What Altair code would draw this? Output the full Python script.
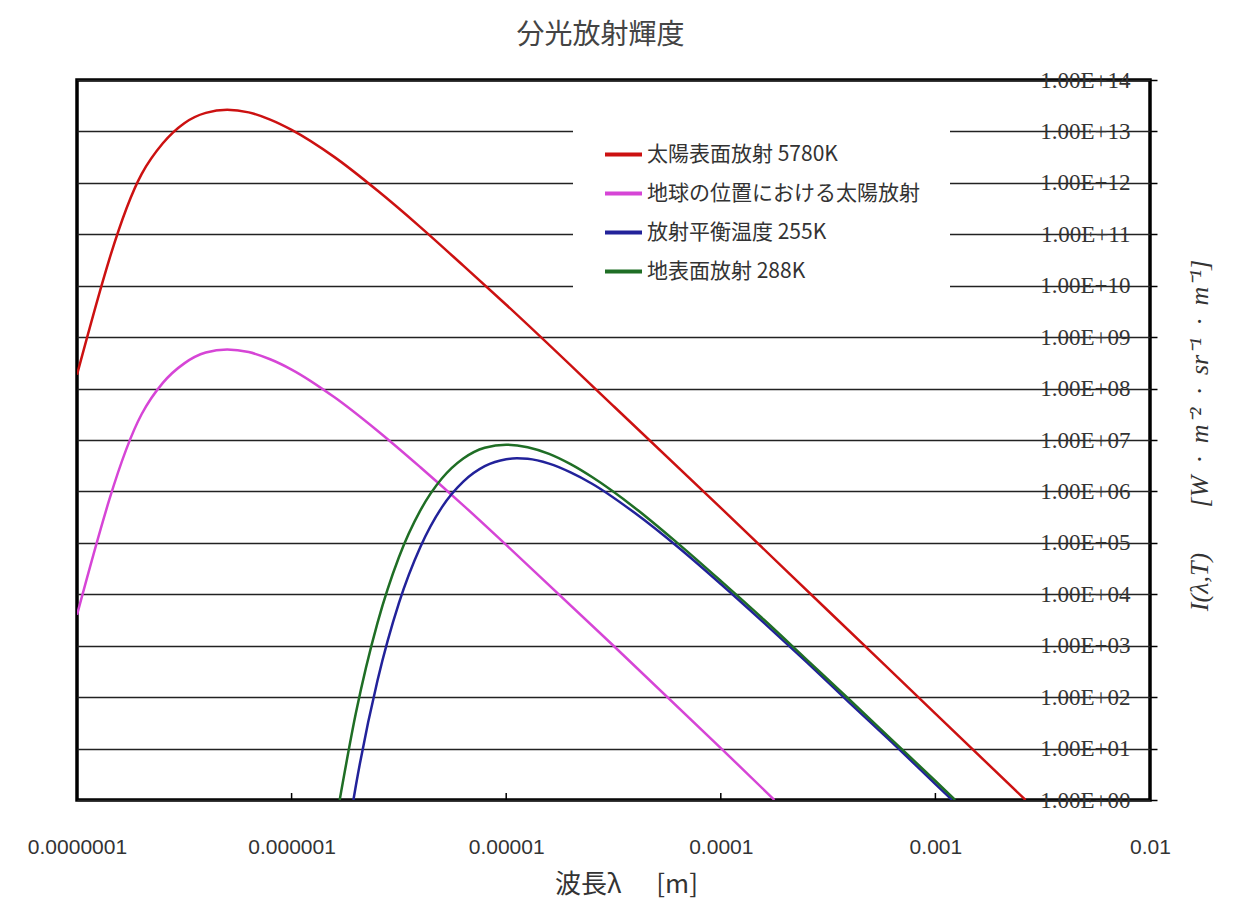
import altair as alt
import pandas as pd

NB = "\u00a0"
chart_title = "分光放射輝度"
x_title = "波長λ" + NB * 6 + "[m]"
y_title = ("I(λ,T)" + NB * 7 + "[W" + NB * 2 + "·" + NB * 2 + "m⁻²" + NB * 2 + "·" + NB * 2
           + "sr⁻¹" + NB * 2 + "·" + NB * 2 + "m⁻¹]")

series_names = ["太陽表面放射 5780K", "地球の位置における太陽放射", "放射平衡温度 255K", "地表面放射 288K"]
series_colors = ["#cc1111", "#d645d6", "#22229a", "#1f6e25"]

# log10(wavelength [m]) and log10(radiance)
sun_log_lambda = [-7.0, -6.699, -6.6, -6.5, -6.4, -6.3, -6.2, -6.1, -6.0, -5.8, -5.6, -5.4, -5.2, -5.0, -4.5, -4.0, -3.5, -3.0, -2.58]
sun_log_I = [8.27, 12.17, 12.77, 13.16, 13.36, 13.42, 13.37, 13.23, 13.03, 12.50, 11.85, 11.14, 10.39, 9.63, 7.66, 5.68, 3.68, 1.68, 0.0]

earth_sun_log_lambda = [-7.0, -6.699, -6.6, -6.5, -6.4, -6.3, -6.2, -6.1, -6.0, -5.8, -5.6, -5.4, -5.2, -5.0, -4.5, -4.0, -3.75]
earth_sun_log_I = [3.60, 7.50, 8.11, 8.49, 8.70, 8.76, 8.71, 8.57, 8.37, 7.83, 7.18, 6.47, 5.73, 4.96, 3.00, 1.01, 0.0]

t255_log_lambda = [-5.712, -5.7, -5.6, -5.5, -5.4, -5.3, -5.2, -5.1, -5.0, -4.95, -4.9, -4.8, -4.7, -4.6, -4.4, -4.2, -4.0, -3.8, -3.6, -3.4, -3.2, -3.0, -2.922]
t255_log_I = [0.0, 0.29, 2.32, 3.83, 4.92, 5.69, 6.19, 6.49, 6.627, 6.645, 6.635, 6.54, 6.37, 6.15, 5.58, 4.92, 4.20, 3.45, 2.68, 1.89, 1.11, 0.31, 0.0]

t288_log_lambda = [-5.776, -5.7, -5.6, -5.5, -5.4, -5.3, -5.2, -5.1, -5.0, -4.9, -4.8, -4.7, -4.6, -4.4, -4.2, -4.0, -3.8, -3.6, -3.4, -3.2, -3.0, -2.908]
t288_log_I = [0.0, 1.70, 3.44, 4.72, 5.63, 6.25, 6.64, 6.85, 6.91, 6.86, 6.73, 6.53, 6.28, 5.68, 4.99, 4.26, 3.51, 2.73, 1.95, 1.16, 0.37, 0.0]

x_ticks = [1e-7, 1e-6, 1e-5, 1e-4, 1e-3, 1e-2]
x_inner_ticks = [1e-6, 1e-5, 1e-4, 1e-3]
y_ticks = [1e0, 1e1, 1e2, 1e3, 1e4, 1e5, 1e6, 1e7, 1e8, 1e9, 1e10, 1e11, 1e12, 1e13, 1e14]

rows = []
for name, us, vs in [
    (series_names[0], sun_log_lambda, sun_log_I),
    (series_names[1], earth_sun_log_lambda, earth_sun_log_I),
    (series_names[2], t255_log_lambda, t255_log_I),
    (series_names[3], t288_log_lambda, t288_log_I),
]:
    for u, v in zip(us, vs):
        rows.append({"series": name, "lambda": 10 ** u, "I": 10 ** v})
df = pd.DataFrame(rows)
tick_df = pd.DataFrame({"lambda": x_inner_ticks})

x_scale = alt.Scale(type="log", domain=[1e-7, 1e-2], nice=False)
y_scale = alt.Scale(type="log", domain=[1, 1e14], nice=False)

lines = alt.Chart(df).mark_line(strokeWidth=2.5, interpolate="monotone", clip=True).encode(
    x=alt.X("lambda:Q", scale=x_scale, axis=alt.Axis(
        orient="bottom", values=x_ticks, format=".7~f", grid=False, ticks=False, domain=False,
        labelFont="Liberation Sans", labelFontSize=21, labelColor="#333333",
        labelPadding=36, labelFlush=False, labelOverlap=False,
        title=x_title, titleFont="Noto Sans CJK JP", titleFontSize=26, titleFontWeight="normal",
        titleColor="#333333", titleX=549, titleY=84, titleAlign="center", titleBaseline="middle")),
    y=alt.Y("I:Q", scale=y_scale, axis=alt.Axis(
        orient="right", values=y_ticks,
        labelExpr="'1.00E+' + (round(log(datum.value)/LN10) < 10 ? '0' : '') + round(log(datum.value)/LN10)",
        labelFont="Liberation Serif", labelFontSize=23, labelColor="#333333",
        labelAlign="right", labelBaseline="middle", labelPadding=-27, labelFlush=False, labelOverlap=False,
        tickSize=7, tickColor="black", tickWidth=1.5, domain=False,
        grid=True, gridColor="#222222", gridWidth=1.5,
        title=y_title, titleFont="Liberation Serif", titleFontStyle="italic", titleFontSize=26,
        titleFontWeight="normal", titleColor="#333333", titleAngle=270, titleX=49, titleY=355,
        titleAlign="center", titleBaseline="middle")),
    color=alt.Color("series:N", scale=alt.Scale(domain=series_names, range=series_colors),
                    legend=alt.Legend(orient="none", legendX=496, legendY=24, fillColor="white",
                                      padding=30, symbolType="stroke", symbolSize=1369,
                                      symbolStrokeWidth=4, labelFont="Noto Sans CJK JP",
                                      labelFontSize=21, labelColor="#333333", labelOffset=3,
                                      rowPadding=8, title=None, labelLimit=0)),
)

ticks = alt.Chart(tick_df).mark_rule(color="black", strokeWidth=1.5).encode(
    x=alt.X("lambda:Q", scale=x_scale),
    y=alt.value(720),
    y2=alt.value(713),
)

chart = alt.layer(lines, ticks).properties(
    width=1073,
    height=720,
    autosize=alt.AutoSizeParams(type="none"),
    padding={"left": 69, "top": 72, "right": 80, "bottom": 98},
    title=alt.TitleParams(chart_title, font="Noto Sans CJK JP", fontSize=28, fontWeight="normal",
                          color="#444444", anchor="middle", offset=19, dx=-13),
).configure(background="white").configure_view(stroke="black", strokeWidth=3.5)

chart.save("out.html", embed_options={"renderer": "svg", "actions": False})
